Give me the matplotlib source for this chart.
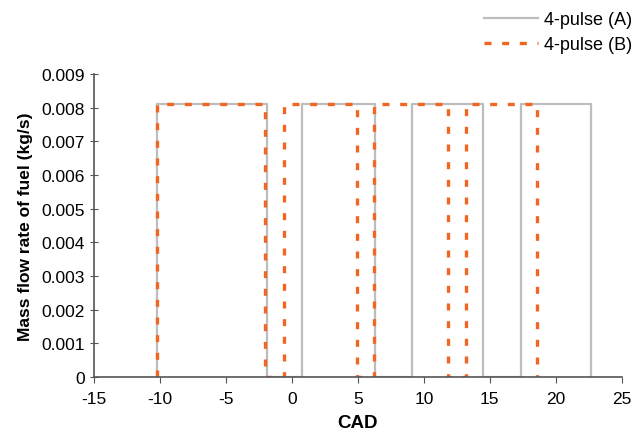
import numpy as np
import matplotlib.pyplot as plt

plt.rcParams['font.family'] = ['Liberation Sans', 'DejaVu Sans']
plt.rcParams['axes.unicode_minus'] = False

# injection windows (CAD) and fuel rate for each strategy
pulse_level = 0.0081
a_start = [-10.2, 0.8, 9.1, 17.4]
a_end = [-1.9, 6.3, 14.5, 22.7]
b_start = [-10.2, -0.6, 6.2, 13.2]
b_end = [-2.0, 4.9, 11.8, 18.6]


def pulse_trace(starts, ends, level):
    # rectangular pulses: 0 -> level at start, level -> 0 at end
    xs, ys = [], []
    for s, e in zip(starts, ends):
        xs += [s, s, e, e]
        ys += [0, level, level, 0]
    return np.array(xs), np.array(ys)


fig = plt.figure(figsize=(6.39, 4.39), dpi=100)
ax = fig.add_axes([0.147, 0.139, 0.826, 0.690])

xa, ya = pulse_trace(a_start, a_end, pulse_level)
xb, yb = pulse_trace(b_start, b_end, pulse_level)
ax.plot(xa, ya, color='#bdbdbd', lw=1.6, label='4-pulse (A)')
ax.plot(xb, yb, color='#f26522', lw=2.4, dashes=(2.1, 3.2), label='4-pulse (B)')

ax.set_xlim(-15, 25)
ax.set_ylim(0, 0.009)
ax.set_xticks(np.arange(-15, 26, 5))
ax.set_yticks(np.arange(0, 0.0091, 0.001))
ax.set_yticklabels(['0'] + ['%.3f' % v for v in np.arange(0.001, 0.0091, 0.001)])

for side in ['top', 'right']:
    ax.spines[side].set_visible(False)
for side in ['left', 'bottom']:
    ax.spines[side].set_color('#555555')
    ax.spines[side].set_linewidth(1.2)
ax.tick_params(axis='x', direction='out', length=4, color='#555555', labelsize=12.5, pad=6)
ax.tick_params(axis='y', direction='inout', length=6, color='#555555', labelsize=12.5)

ax.set_xlabel('CAD', fontsize=13.5, fontweight='bold', labelpad=6)
ax.set_ylabel('Mass flow rate of fuel (kg/s)', fontsize=12.5, fontweight='bold', labelpad=6)

ax.legend(loc='lower right', bbox_to_anchor=(1.05, 1.015), frameon=False, fontsize=13,
          handlelength=3.0, handletextpad=0.3, labelspacing=0.45)

fig.savefig('out.png', dpi=100)
